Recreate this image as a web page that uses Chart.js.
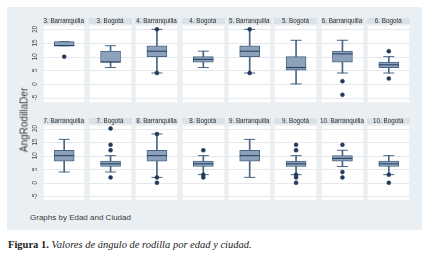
<!DOCTYPE html>
<html><head><meta charset="utf-8">
<script src="https://cdn.jsdelivr.net/npm/chart.js@4.4.0/dist/chart.umd.min.js"></script>
<style>
html,body{margin:0;padding:0;background:#fff;width:432px;height:257px;overflow:hidden;position:relative;}
#bg{position:absolute;left:7px;top:7px;width:415px;height:223px;background:#e9eff3;}
canvas{position:absolute;left:0;}
#c1{top:14px;}
#c2{top:114px;}
#ytitle{position:absolute;left:24px;top:120px;transform:translate(-50%,-50%) rotate(-90deg);font:10px "Liberation Sans",Arial,sans-serif;color:#3a3a3a;white-space:nowrap;}
#note{position:absolute;left:30px;top:213px;font:8px "Liberation Sans",Arial,sans-serif;color:#3a3a3a;white-space:nowrap;}
#cap{position:absolute;left:8px;top:239px;font:10.5px "Liberation Serif","Times New Roman",serif;color:#222;white-space:nowrap;}
#cap b{font-weight:bold;}
#cap i{font-style:italic;}
</style>
</head><body>
<div id="bg"></div>
<canvas id="c1" width="432" height="100"></canvas>
<canvas id="c2" width="432" height="98"></canvas>
<div id="ytitle">AngRodillaDer</div>
<div id="note">Graphs by Edad and Ciudad</div>
<div id="cap"><b>Figura 1.</b> <i>Valores de ángulo de rodilla por edad y ciudad.</i></div>
<script>
// ---- data ----
const yTicks = [-5, 0, 5, 10, 15, 20];

const topLabels = ['3. Barranquilla','3. Bogotá','4. Barranquilla','4. Bogotá','5. Barranquilla','5. Bogotá','6. Barranquilla','6. Bogotá'];
const topMin = [14, 6, 4, 6, 4, 0, 4, 4];
const topQ1  = [14, 8, 10, 8, 10, 5, 8, 6];
const topMed = [14, 8, 12, 9, 12, 6, 11, 7];
const topQ3  = [15.5, 12, 14, 10, 14, 10, 12, 8];
const topMax = [15.5, 14, 20, 12, 20, 16, 16, 10];
const topOut = [[10], [], [20, 4], [], [20, 4], [], [1, -4], [12, 2]];

const botLabels = ['7. Barranquilla','7. Bogotá','8. Barranquilla','8. Bogotá','9. Barranquilla','9. Bogotá','10. Barranquilla','10. Bogotá'];
const botMin = [4, 4, 2, 3, 2, 3, 6, 3];
const botQ1  = [8, 6, 8, 6, 8, 6, 8, 6];
const botMed = [10, 7, 10, 7, 10, 7, 9, 7];
const botQ3  = [12, 8, 12, 8, 12, 8, 10, 8];
const botMax = [16, 10, 18, 10, 16, 10, 12, 10];
const botOut = [[], [20, 14, 12, 2], [18, 2, 0], [12, 3, 2], [], [14, 12, 3, 2, 0], [14, 4, 2], [3, 0]];

// ---- styles ----
const BOX_FILL = '#8ca2bb';
const BOX_EDGE = '#4a6584';
const DARK = '#22395a';

const panelPlugin = {
  id: 'panels',
  beforeDatasetsDraw(chart) {
    const ctx = chart.ctx, ca = chart.chartArea;
    const xs = chart.scales.x, ys = chart.scales.y;
    const n = chart.data.labels.length;
    const cw = ca.width / n;
    ctx.save();
    chart.data.labels.forEach((lab, i) => {
      const cx = xs.getPixelForValue(i);
      const l = Math.round(cx - cw / 2 + 1.5), r = Math.round(cx + cw / 2 - 2);
      ctx.fillStyle = '#ffffff';
      ctx.fillRect(l, ca.top, r - l, ca.bottom - ca.top);
      ctx.strokeStyle = '#f0f2f4';
      ctx.strokeRect(l + 0.5, ca.top + 0.5, r - l - 1, ca.bottom - ca.top - 1);
      ctx.strokeStyle = '#e6e9ec';
      ctx.lineWidth = 1;
      yTicks.forEach(t => {
        const y = Math.round(ys.getPixelForValue(t)) + 0.5;
        ctx.beginPath(); ctx.moveTo(l, y); ctx.lineTo(r, y); ctx.stroke();
      });
      // strip
      ctx.fillStyle = '#dae2e8';
      ctx.fillRect(l, ca.top - 7, r - l, 6);
      ctx.fillStyle = '#333';
      ctx.font = '6.3px "Liberation Sans", Arial, sans-serif';
      ctx.textAlign = 'center'; ctx.textBaseline = 'middle';
      ctx.fillText(lab, cx - 0.5, ca.top - 4);
    });
    // y tick labels (rotated)
    ctx.fillStyle = '#444';
    ctx.font = '6.3px "Liberation Sans", Arial, sans-serif';
    ctx.textAlign = 'center'; ctx.textBaseline = 'middle';
    yTicks.forEach(t => {
      const y = ys.getPixelForValue(t);
      ctx.save();
      ctx.translate(ca.left - 6, y);
      ctx.rotate(-Math.PI / 2);
      ctx.fillText(String(t), 0, 0);
      ctx.restore();
    });
    ctx.restore();
  }
};

function makeChart(id, labels, mn, q1, med, q3, mx, out, yMin, yMax, pad) {
  const capPts = [];
  labels.forEach((lab, i) => { capPts.push({x: lab, y: mn[i]}); capPts.push({x: lab, y: mx[i]}); });
  const outPts = [];
  labels.forEach((lab, i) => out[i].forEach(v => outPts.push({x: lab, y: v})));
  new Chart(document.getElementById(id), {
    type: 'bar',
    data: {
      labels: labels,
      datasets: [
        { type: 'bar', data: labels.map((l, i) => [mn[i], mx[i]]), backgroundColor: BOX_EDGE,
          barThickness: 1, grouped: false, order: 4 },
        { type: 'line', data: capPts, showLine: false, pointStyle: 'line', pointRadius: 5.5,
          pointBorderColor: BOX_EDGE, pointBorderWidth: 1, order: 3 },
        { type: 'bar', data: labels.map((l, i) => [q1[i], q3[i]]), backgroundColor: BOX_FILL,
          borderColor: BOX_EDGE, borderWidth: 1, borderSkipped: false, barThickness: 20, grouped: false, order: 2 },
        { type: 'line', data: labels.map((l, i) => ({x: l, y: med[i]})), showLine: false, pointStyle: 'line',
          pointRadius: 10, pointBorderColor: DARK, pointBorderWidth: 1, order: 1 },
        { type: 'line', data: outPts, showLine: false, pointStyle: 'circle', pointRadius: 2,
          pointBackgroundColor: DARK, pointBorderColor: DARK, pointBorderWidth: 0.5, order: 0 }
      ]
    },
    options: {
      responsive: false, animation: false, events: [],
      layout: { padding: pad },
      plugins: { legend: { display: false }, tooltip: { enabled: false } },
      scales: {
        x: { type: 'category', display: false, offset: true },
        y: { type: 'linear', display: false, min: yMin, max: yMax }
      }
    },
    plugins: [panelPlugin]
  });
}

makeChart('c1', topLabels, topMin, topQ1, topMed, topQ3, topMax, topOut, -7, 21.6,
  { left: 41, right: 20, top: 10, bottom: 3 });
makeChart('c2', botLabels, botMin, botQ1, botMed, botQ3, botMax, botOut, -6.7, 21.3,
  { left: 41, right: 20, top: 11, bottom: 3 });
</script>
</body></html>
